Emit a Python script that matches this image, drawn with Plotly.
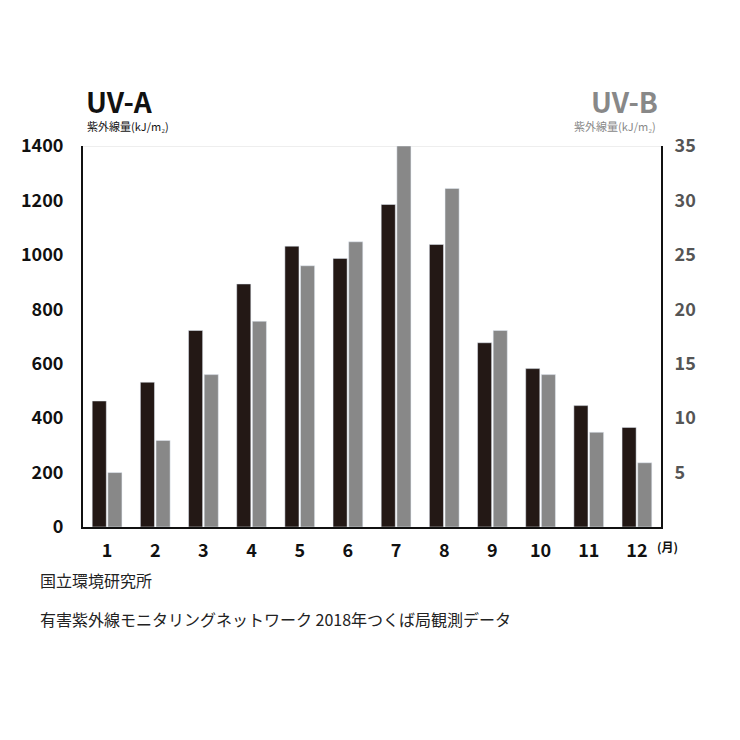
import plotly.graph_objects as go

months = ["1","2","3","4","5","6","7","8","9","10","11","12"]
uva = [463, 532, 722, 893, 1032, 987, 1185, 1038, 677, 582, 446, 366]
uvb = [5.0, 7.95, 14.0, 18.9, 24.0, 26.2, 35.0, 31.1, 18.05, 14.0, 8.7, 5.9]
left_ticks = [0, 200, 400, 600, 800, 1000, 1200, 1400]
right_ticks = [5, 10, 15, 20, 25, 30, 35]

F = "Noto Sans CJK JP"
OFF = 8  # page offset
L, R, T, B = 83 - OFF, 79 + OFF, 146 - OFF, 213 + OFF
fig = go.Figure()
fig.add_bar(x=months, y=uva, marker_color="#231815", offsetgroup="a", yaxis="y")
fig.add_bar(x=months, y=uvb, marker_color="#888888", offsetgroup="b", yaxis="y2")
fig.update_layout(
    width=740, height=740, barmode="group", bargap=0.35, bargroupgap=0.1,
    paper_bgcolor="white", plot_bgcolor="white", showlegend=False,
    margin=dict(l=L, r=R, t=T, b=B),
    font=dict(family=F, color="#111"),
    xaxis=dict(type="category", showline=True, linecolor="#111", linewidth=2,
               ticks="", tickfont=dict(size=18, family=F, weight="bold"), ticklabelstandoff=6),
    yaxis=dict(range=[0, 1400], tickvals=left_ticks, showgrid=False, zeroline=False,
               showline=True, linecolor="#111", linewidth=2,
               tickfont=dict(size=18, family=F, weight="bold", color="#111"), ticklabelstandoff=14),
    yaxis2=dict(range=[0, 35], tickvals=right_ticks, overlaying="y", side="right",
                showgrid=False, zeroline=False, showline=True, linecolor="#111", linewidth=2,
                tickfont=dict(size=18, family=F, weight="bold", color="#555"), ticklabelstandoff=8),
    shapes=[dict(type="line", xref="paper", yref="y", x0=0, x1=1, y0=1400, y1=1400,
                 line=dict(color="#eeeeee", width=2), layer="below")],
)
ann = [
    dict(x=84, y=101, text="<b>UV-A</b>", size=28, color="#111", anchor="left"),
    dict(x=85, y=126, text="紫外線量(kJ/m₂)", size=11, color="#111", anchor="left"),
    dict(x=660, y=101, text="<b>UV-B</b>", size=28, color="#888", anchor="right"),
    dict(x=658, y=126, text="紫外線量(kJ/m₂)", size=11, color="#888", anchor="right"),
    dict(x=655, y=546, text="<b>(月)</b>", size=12, color="#111", anchor="left"),
    dict(x=38, y=580, text="国立環境研究所", size=16, color="#222", anchor="left"),
    dict(x=38, y=619, text="有害紫外線モニタリングネットワーク 2018年つくば局観測データ", size=16, color="#222", anchor="left"),
]
for a in ann:
    px, py = a["x"] - OFF, a["y"] - OFF
    fx = (px - L) / (740 - L - R)
    fy = (740 - B - py) / (740 - B - T)
    fig.add_annotation(x=fx, y=fy, xref="paper", yref="paper", text=a["text"], showarrow=False,
                       xanchor=a["anchor"], yanchor="middle",
                       font=dict(size=a["size"], color=a["color"], family=F))
fig.write_html("out.html")
